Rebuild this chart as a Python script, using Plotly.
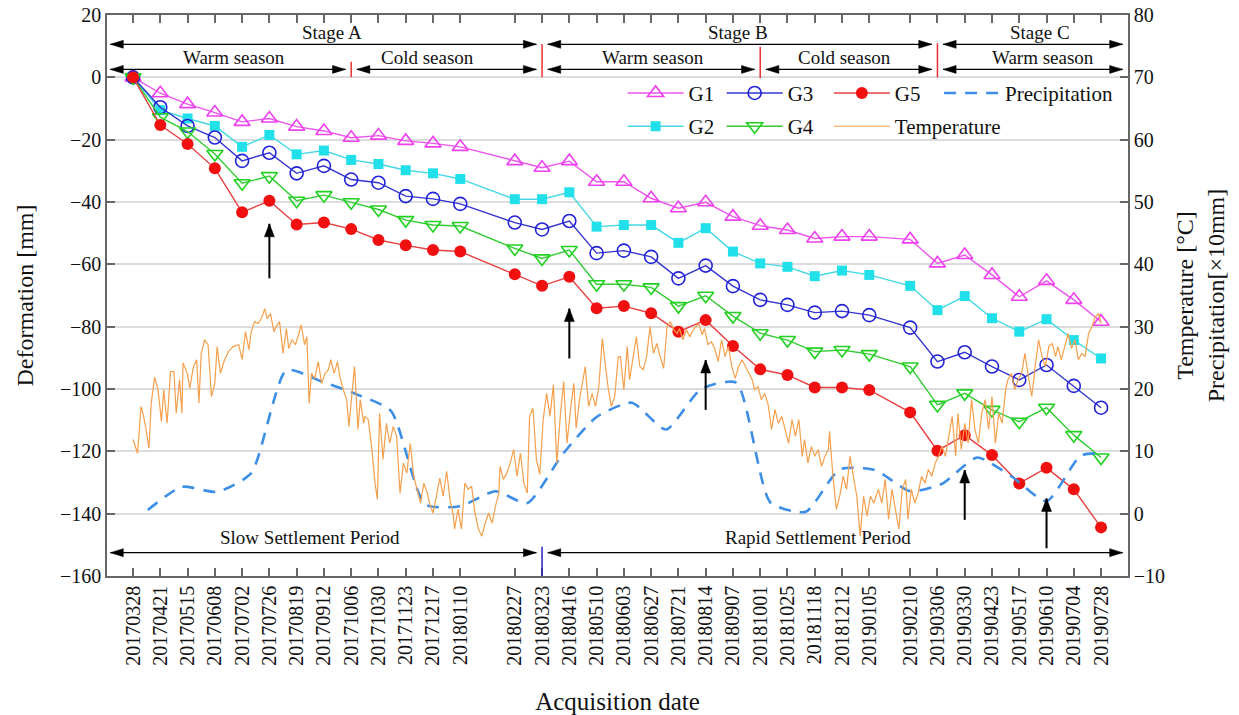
import pandas as pd
import plotly.graph_objects as go

# ---------------- data ----------------
dates = ["20170328", "20170421", "20170515", "20170608", "20170702", "20170726", "20170819",
         "20170912", "20171006", "20171030", "20171123", "20171217", "20180110", "20180227",
         "20180323", "20180416", "20180510", "20180603", "20180627", "20180721", "20180814",
         "20180907", "20181001", "20181025", "20181118", "20181212", "20190105", "20190210",
         "20190306", "20190330", "20190423", "20190517", "20190610", "20190704", "20190728"]

g1 = [0, -5.1, -8.6, -11.3, -14.3, -13.2, -15.8, -17.2, -19.4, -18.7, -20.4, -21.2,
      -22.3, -26.9, -29.0, -26.9, -33.5, -33.5, -38.8, -42.0, -40.1, -44.7, -47.6, -49.0, -51.7, -51.1,
      -51.1, -52.0, -59.7, -57.0, -63.4, -70.4, -65.3, -71.4, -78.4]
g2 = [0, -10.5, -13.2, -15.6, -22.3, -18.5, -24.7, -23.5, -26.5, -27.8, -29.8, -30.8,
      -32.6, -39.1, -39.1, -36.9, -47.9, -47.4, -47.4, -53.1, -48.4, -55.9, -59.7, -60.8, -63.8, -62.0,
      -63.4, -66.9, -74.7, -70.2, -77.3, -81.6, -77.6, -84.3, -90.2]
g3 = [0, -9.6, -15.6, -19.3, -26.8, -24.2, -30.8, -28.4, -32.8, -33.8, -38.1, -39.0,
      -40.6, -46.6, -48.8, -46.1, -56.4, -55.6, -57.6, -64.5, -60.4, -67.0, -71.4, -73.0, -75.5, -75.0,
      -76.3, -80.3, -91.2, -88.2, -92.8, -97.1, -92.3, -99.0, -106.0]
g4 = [0, -12.8, -17.4, -24.6, -34.0, -31.7, -39.6, -37.8, -40.1, -42.4, -45.8, -47.4,
      -47.7, -54.9, -58.1, -55.4, -66.4, -66.4, -67.4, -73.4, -70.1, -76.6, -82.1, -84.3, -88.0, -87.5,
      -88.8, -92.8, -105.1, -101.4, -106.7, -110.5, -106.0, -114.8, -122.0]
g5 = [0, -15.3, -21.4, -29.2, -43.3, -39.6, -47.2, -46.6, -48.7, -52.2, -53.9, -55.4,
      -55.9, -63.2, -66.9, -64.0, -74.1, -73.4, -75.7, -81.6, -77.9, -86.2, -93.7, -95.5, -99.5, -99.5,
      -100.3, -107.5, -119.8, -114.8, -121.2, -130.3, -125.3, -132.2, -144.4]

# precipitation (x10 mm), monthly
precip_dates = ["20170410", "20170510", "20170610", "20170710", "20170810", "20170910", "20171010",
                "20171110", "20171210", "20180110", "20180210", "20180310", "20180410", "20180510",
                "20180610", "20180710", "20180810", "20180910", "20181010", "20181110", "20181210",
                "20190110", "20190210", "20190310", "20190410", "20190510", "20190610", "20190710",
                "20190728"]
precip = [0.6, 4.3, 3.5, 6.5, 23.0, 21.2, 19.2, 16.5, 1.5, 1.2, 3.6, 1.7, 9.5, 15.5,
          17.8, 13.5, 20.0, 21.0, 1.8, 0.3, 7.1, 7.0, 3.6, 4.8, 9.0, 6.0, 2.0, 9.3, 9.7]

# temperature (deg C), day offset from first acquisition date
temp_day = [0, 4, 7, 9, 11, 14, 16, 19, 22, 25, 27, 30, 33, 36, 38, 41, 43, 44, 48, 50,
            53, 56, 58, 60, 63, 66, 69, 72, 74, 77, 80, 84, 88, 93, 96, 99, 102, 104, 107, 110,
            113, 116, 118, 121, 124, 126, 129, 132, 135, 137, 140, 143, 146, 148, 151, 153, 155, 157, 160, 163,
            166, 169, 172, 174, 177, 180, 182, 185, 188, 190, 193, 195, 198, 200, 203,
            204, 207, 210, 213, 215, 217, 220, 223, 226, 229, 232, 235, 238, 241, 244, 247, 250, 253, 256, 259,
            261, 264, 267, 270, 273, 276, 279, 282, 283, 286, 289, 292, 295, 298, 301, 304, 307, 310, 313, 316,
            319, 322, 323, 326, 329, 332, 335, 338, 341, 344, 347, 349, 352, 355, 358, 361, 364, 367, 370, 373,
            376, 379, 382, 385, 388, 390, 393, 398, 401, 404, 407, 410, 413, 415, 418, 421, 424, 427,
            429, 432, 435, 437, 440, 443, 446, 449, 452, 455, 458, 461, 464, 467, 470, 473, 476, 479, 481, 484,
            487, 490, 493, 498, 501, 503, 506, 509, 512, 515, 518, 521, 524, 527, 530, 533, 536, 539, 542, 545,
            547, 550, 553, 556, 559, 562, 565, 568, 571, 574, 577, 580, 583, 586, 589, 591, 594, 597, 600, 603,
            606, 609, 612, 613, 616, 619, 622, 625, 628, 631, 634, 637, 640, 643, 646, 649, 652,
            653, 656, 659, 662, 665, 668, 671, 674, 677, 680, 682, 685, 688, 691, 694, 697, 700, 703, 706, 709,
            712, 715, 718, 721, 724, 726, 729, 732, 735, 738, 741, 744, 747, 750, 753, 756, 759, 762, 765, 768,
            770, 773, 776, 779, 782, 785, 788, 791, 794, 797, 800, 803, 806, 809, 812, 814, 817, 820, 823, 826,
            829, 832, 835, 838, 841, 844, 847, 850, 852]
temp_val = [11.9, 9.7, 17.2, 15.9, 14, 10.5, 17.7, 21.9, 19.9, 14.8, 19.9, 14.5, 22.8, 22.8, 16.1, 21.5, 16.1, 24.2, 22.3, 20.1,
            23.5, 24.7, 17.7, 25.7, 27.9, 27.1, 18.8, 20.9, 26.8, 22.5, 24.4, 26, 26.8, 27.1, 24.7, 29.2, 26.3, 29.2, 30.8, 30.5,
            31.3, 32.9, 31.3, 32.1, 29.2, 30, 30.8, 25.7, 29.7, 26.5, 27.9, 27.1, 28.9, 30.3, 27.1, 28.4, 17.7, 22.5, 21.7, 24.4,
            20.9, 22.5, 23.1, 24.7, 22.5, 24.4, 22, 19.9, 18.3, 14, 19.9, 23.6, 13.5, 18.3, 14.5,
            15.6, 15.1, 10.8, 4.9, 2.3, 16.1, 8.7, 14.5, 11.3, 14, 12.4, 3.3, 8.1, 6.5, 11.3, 6, 3.9, 1.7, 4.9, 3.3,
            1.7, 0.1, 2.8, 5.7, 2.8, 6.8, 2.3, -0.4, -2.5, 0.7, -2.5, 4.9, 3.9, 4.4, 0.1, -2.5, -3.6, -1.5, 0.1, -1.5,
            1.2, 3.3, 7.6, 5.5, 6.5, 8.1, 10.3, 6, 9.7, 4.9, 3.3, 15.6, 16.9, 8.7, 6.3, 15.1, 19.3, 15.6, 20.7, 8.1,
            15.6, 21.2, 11.3, 16.7, 20.9, 13.7, 18.3, 23.6, 17.2, 19.3, 17.2, 20.4, 28.1, 25.2, 20.4, 17.2, 18.8, 25.2,
            25.2, 19.9, 26.8, 21.5, 25.2, 28.4, 23.6, 23.1, 25.2, 30, 25.7, 27.3, 25.2, 23.3, 30, 30.8, 29.5, 28.9, 29.7, 27.9,
            29.5, 28.4, 29.5, 30.5, 28.7, 29.7, 27.1, 27.6, 26.5, 24.4, 27.9, 25.2, 26.8, 23.6, 21.7, 23.6, 24.7, 23.6, 22.5, 21.5,
            19.9, 20.4, 18.3, 19.3, 17.5, 13.5, 16.7, 14.5, 15.6, 13.5, 11.3, 15.1, 12.4, 15.1, 9.2, 11.9, 8.1, 10.8, 9.2, 10.3,
            7.6, 9.2, 10.3, 13.2, 6, 0.7, 2.8, 6, 3.9, 9.2, 6, 2.8, -3.6, 2.8, -0.4, 2.8, 1.7,
            2.3, 3.9, 1.7, 5.5, -0.9, 3.9, 0.7, -2.5, 3.9, 5.5, -0.9, 3.9, 1.7, 3.3, 6, 4.9, 7.1, 6, 8.1, 9.2,
            10.8, 9.2, 12.4, 15.6, 9.2, 16.1, 10.3, 14.5, 11.3, 18.3, 13.5, 11.3, 16.1, 18.3, 13.5, 18.8, 11.3, 16.1, 14.5, 19.9,
            21.5, 22.5, 19.9, 21.5, 22.5, 25.7, 22, 18.8, 23.6, 27.9, 25.2, 23.6, 26.8, 27.3, 25.2, 26.8, 24.7, 26.8, 28.9, 26.5,
            27.9, 24.7, 25.7, 25.2, 28.9, 30, 31.6, 32.1, 30.5]

# stage / season boundaries (acquisition dates)
season_bounds = ["20171006", "20181001"]
stage_bounds = ["20180323", "20190306"]
arrow_dates = ["20170726", "20180416", "20180814", "20190330", "20190610"]
arrow_tip = [-47.0, -74.2, -90.7, -126.0, -135.1]
arrow_tail = [-64.5, -90.2, -106.7, -142.0, -151.1]

# ---------------- figure ----------------
FONT = "Liberation Serif, Times New Roman, serif"
x = pd.to_datetime(dates, format="%Y%m%d")
t0 = x[0]
tx = t0 + pd.to_timedelta(temp_day, unit="D")
px_ = pd.to_datetime(precip_dates, format="%Y%m%d")

fig = go.Figure()

# (name, values, marker, line colour, legend column)
series = [
    ("G1", g1, dict(symbol="triangle-up-open", size=14, color="#EE40EE", line=dict(width=1.6)), "#EE55EE", "legend"),
    ("G2", g2, dict(symbol="square", size=10, color="#22E0EA"), "#44D8E4", "legend"),
    ("G3", g3, dict(symbol="circle-open", size=13, color="#2222D8", line=dict(width=1.6)), "#3434D0", "legend2"),
    ("G4", g4, dict(symbol="triangle-down-open", size=14, color="#22D022", line=dict(width=1.6)), "#33CC33", "legend2"),
    ("G5", g5, dict(symbol="circle", size=12, color="#F01010"), "#E84040", "legend3"),
]
for name, vals, mk, lc, lg in series:
    fig.add_trace(go.Scatter(x=x, y=vals, name=name, mode="lines+markers", legendgroup=name,
                             marker=mk, line=dict(color=lc, width=1.4), legend=lg))

fig.add_trace(go.Scatter(x=px_, y=precip, name="Precipitation", mode="lines", yaxis="y2",
                         legendgroup="Precipitation",
                         line=dict(color="#3D8EE6", width=2.6, dash="12px,9px", shape="spline", smoothing=0.6),
                         legend="legend4"))
fig.add_trace(go.Scatter(x=tx, y=temp_val, name="Temperature", mode="lines", yaxis="y2",
                         legendgroup="Temperature",
                         line=dict(color="#F5A04C", width=1.2), legend="legend3"))

shapes = []
annotations = []

def d(s):
    return pd.to_datetime(s, format="%Y%m%d")

gap = pd.Timedelta(days=5)
left_end = pd.Timestamp("2017-03-08")
right_end = pd.Timestamp("2019-08-16")

def harrow(xa, xb, yv):
    shapes.append(dict(type="line", xref="x", yref="y", x0=xa, x1=xb, y0=yv, y1=yv,
                       line=dict(color="black", width=1.2)))
    for xt, path in ((xa, "M0,0 L13,4 L13,-4 Z"), (xb, "M0,0 L-13,4 L-13,-4 Z")):
        shapes.append(dict(type="path", xref="x", yref="y", xsizemode="pixel", ysizemode="pixel",
                           xanchor=xt, yanchor=yv, path=path, fillcolor="black",
                           line=dict(color="black", width=0.5)))

Y_STAGE, Y_SEASON, Y_PERIOD = 10.6, 2.55, -152.5
sb = [d(s) for s in stage_bounds]
seb = [d(s) for s in season_bounds]
harrow(left_end, sb[0] - gap, Y_STAGE)
harrow(sb[0] + gap, sb[1] - gap, Y_STAGE)
harrow(sb[1] + gap, right_end, Y_STAGE)
harrow(left_end, seb[0] - gap, Y_SEASON)
harrow(seb[0] + gap, sb[0] - gap, Y_SEASON)
harrow(sb[0] + gap, seb[1] - gap, Y_SEASON)
harrow(seb[1] + gap, sb[1] - gap, Y_SEASON)
harrow(sb[1] + gap, right_end, Y_SEASON)
harrow(left_end, sb[0] - gap, Y_PERIOD)
harrow(sb[0] + gap, right_end, Y_PERIOD)

for xb, y0, y1 in ((seb[0], 0, 5.0), (sb[0], 0, 10.7), (seb[1], -0.3, 9.8), (sb[1], 0, 10.9)):
    shapes.append(dict(type="line", xref="x", yref="y", x0=xb, x1=xb, y0=y0, y1=y1,
                       line=dict(color="#E83030", width=1.5)))
shapes.append(dict(type="line", xref="x", yref="y", x0=sb[0], x1=sb[0], y0=-160, y1=-150.6,
                   line=dict(color="#2020C0", width=1.5)))

for ad, tip, tail in zip(arrow_dates, arrow_tip, arrow_tail):
    shapes.append(dict(type="line", xref="x", yref="y", x0=d(ad), x1=d(ad), y0=tail, y1=tip,
                       line=dict(color="black", width=2)))
    shapes.append(dict(type="path", xref="x", yref="y", xsizemode="pixel", ysizemode="pixel",
                       xanchor=d(ad), yanchor=tip, path="M0,0 L-5,-13 L5,-13 Z", fillcolor="black",
                       line=dict(color="black", width=0.5)))

def label(text, xp, yp, size=19):
    annotations.append(dict(text=text, xref="paper", yref="paper", x=xp, y=yp, showarrow=False,
                            xanchor="center", yanchor="middle", font=dict(family=FONT, size=size, color="#111")))

label("Stage A", 0.220, 0.968)
label("Stage B", 0.618, 0.968)
label("Stage C", 0.914, 0.968)
label("Warm season", 0.124, 0.924)
label("Cold season", 0.314, 0.924)
label("Warm season", 0.535, 0.924)
label("Cold season", 0.722, 0.924)
label("Warm season", 0.917, 0.924)
label("Slow Settlement Period", 0.199, 0.069)
label("Rapid Settlement Period", 0.696, 0.069)

axis_common = dict(showline=True, linecolor="#666", linewidth=1.5, ticks="inside", ticklen=8,
                   tickwidth=1.5, tickcolor="#666", automargin=False,
                   tickfont=dict(family=FONT, size=20, color="#111"))

def legend_col(xp):
    return dict(orientation="v", x=xp, xanchor="left", y=0.897, yanchor="top",
                bgcolor="rgba(0,0,0,0)", font=dict(family=FONT, size=21), itemwidth=56,
                tracegroupgap=3)

fig.update_layout(
    width=1239, height=715,
    margin=dict(l=107, r=111, t=15, b=139, autoexpand=False),
    paper_bgcolor="white", plot_bgcolor="white",
    font=dict(family=FONT, color="#111"),
    shapes=shapes, annotations=annotations,
    xaxis=dict(type="date", range=["2017-03-05 02:00", "2019-08-20 17:00"],
               tickmode="array", tickvals=x, ticktext=dates, tickangle=-90,
               mirror="ticks", showgrid=False,
               title=dict(text="Acquisition date", font=dict(family=FONT, size=25), standoff=31),
               **axis_common),
    yaxis=dict(range=[-160, 20], dtick=20, tick0=0, showgrid=True, gridcolor="#dcdcdc", gridwidth=1.5,
               zeroline=False,
               title=dict(text="Deformation [mm]", font=dict(family=FONT, size=24), standoff=20),
               **axis_common),
    yaxis2=dict(range=[-10, 80], dtick=10, tick0=0, overlaying="y", side="right", showgrid=False,
                zeroline=False,
                title=dict(text="Temperature [°C]<br>Precipitation[×10mm]", font=dict(family=FONT, size=24),
                           standoff=12),
                **axis_common),
    legend=legend_col(0.505),
    legend2=legend_col(0.602),
    legend3=legend_col(0.707),
    legend4=legend_col(0.815),
    showlegend=True,
)

fig.write_html("out.html")
